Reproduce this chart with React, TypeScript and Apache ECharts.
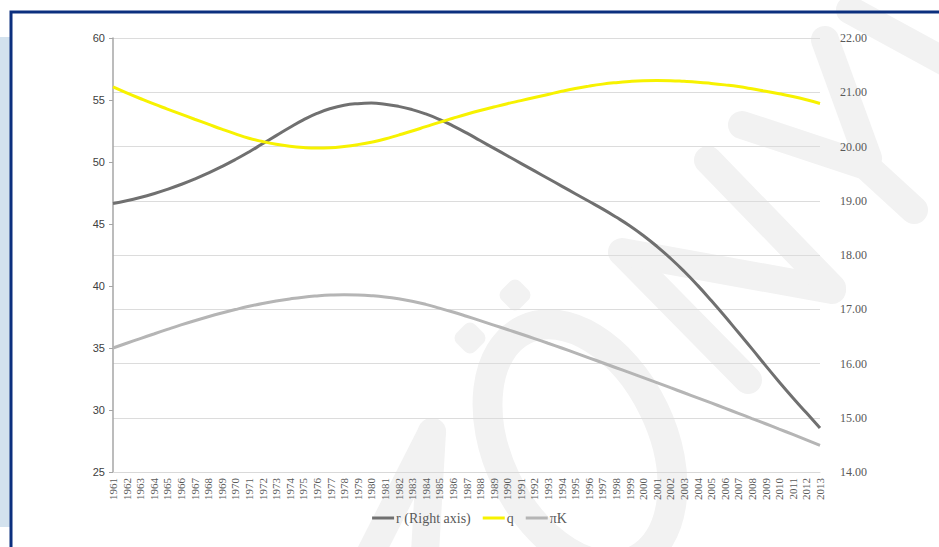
import React, { useEffect, useRef } from "react";
import * as echarts from "echarts";

const years: string[] = [];
for (let y = 1961; y <= 2013; y++) years.push(String(y));

const rValues = [
  18.95, 19.00, 19.06, 19.13, 19.21, 19.30, 19.40, 19.51, 19.63, 19.76,
  19.90, 20.05, 20.20, 20.35, 20.49, 20.61, 20.70, 20.76, 20.79, 20.80,
  20.78, 20.74, 20.68, 20.60, 20.50, 20.38, 20.25, 20.11, 19.97, 19.83,
  19.69, 19.55, 19.41, 19.27, 19.13, 18.99, 18.85, 18.70, 18.54, 18.36,
  18.16, 17.94, 17.70, 17.44, 17.16, 16.87, 16.57, 16.27, 15.96, 15.66,
  15.37, 15.09, 14.81,
];

const qValues = [
  56.06, 55.58, 55.12, 54.68, 54.27, 53.86, 53.45, 53.05, 52.65, 52.27,
  51.92, 51.65, 51.43, 51.27, 51.17, 51.13, 51.15, 51.25, 51.40, 51.60,
  51.85, 52.17, 52.50, 52.85, 53.20, 53.53, 53.85, 54.15, 54.43, 54.70,
  54.95, 55.20, 55.45, 55.70, 55.93, 56.12, 56.28, 56.40, 56.49, 56.55,
  56.57, 56.56, 56.51, 56.44, 56.34, 56.22, 56.08, 55.90, 55.70, 55.50,
  55.28, 55.02, 54.72,
];

const piKValues = [
  35.00, 35.38, 35.76, 36.13, 36.50, 36.86, 37.20, 37.52, 37.82, 38.10,
  38.36, 38.59, 38.79, 38.96, 39.10, 39.20, 39.27, 39.30, 39.28, 39.22,
  39.12, 38.97, 38.77, 38.52, 38.22, 37.90, 37.56, 37.21, 36.85, 36.49,
  36.13, 35.76, 35.38, 35.00, 34.61, 34.21, 33.81, 33.41, 33.01, 32.61,
  32.21, 31.80, 31.39, 30.98, 30.57, 30.15, 29.73, 29.31, 28.89, 28.46,
  28.03, 27.59, 27.15,
];

const leftTicks = { min: 25, max: 60, interval: 5 };
const rightTicks = { min: 14, max: 22, interval: 1 };

const seriesNames = ["r (Right axis)", "q", "πK"];

const WM = "#f2f2f2";
const wmLine = (pts: number[][], w = 28) => ({
  type: "polyline",
  z: -10,
  silent: true,
  shape: { points: pts },
  style: { stroke: WM, lineWidth: w, lineCap: "round", lineJoin: "round", fill: null },
});

export default function App() {
  const ref = useRef<HTMLDivElement>(null);
  useEffect(() => {
    if (!ref.current) return;
    const chart = echarts.init(ref.current, null, { renderer: "svg" });
    const serif = "'Liberation Serif', 'DejaVu Serif', serif";
    const sans = "'Liberation Sans', 'DejaVu Sans', sans-serif";
    chart.setOption({
      animation: false,
      backgroundColor: "#ffffff",
      textStyle: { fontFamily: serif },
      graphic: [
        {
          type: "rect",
          z: -20,
          silent: true,
          shape: { x: 0, y: 37, width: 10, height: 490 },
          style: { fill: "#d3e2ee" },
        },
        wmLine([[432, 432], [424, 570]]),
        wmLine([[432, 432], [362, 570]]),
        {
          type: "ellipse",
          z: -10,
          silent: true,
          x: 580,
          y: 445,
          rotation: 0.45,
          shape: { cx: 0, cy: 0, rx: 82, ry: 128 },
          style: { stroke: WM, lineWidth: 30, fill: null },
        },
        {
          type: "rect",
          z: -10,
          silent: true,
          x: 515,
          y: 295,
          rotation: Math.PI / 4,
          shape: { x: -13, y: -13, width: 26, height: 26, r: 7 },
          style: { fill: WM },
        },
        {
          type: "rect",
          z: -10,
          silent: true,
          x: 470,
          y: 338,
          rotation: Math.PI / 4,
          shape: { x: -13, y: -13, width: 26, height: 26, r: 7 },
          style: { fill: WM },
        },
        wmLine([[624, 254], [748, 380]]),
        wmLine([[622, 252], [832, 290]]),
        wmLine([[708, 160], [832, 288]]),
        wmLine([[742, 125], [866, 166], [914, 210]]),
        wmLine([[825, 40], [868, 158]]),
        wmLine([[850, 10], [960, 70]]),
        {
          type: "rect",
          z: 100,
          silent: true,
          shape: { x: 11, y: 12, width: 960, height: 560 },
          style: { stroke: "#0b2f7e", lineWidth: 3, fill: null },
        },
      ],
      grid: { left: 113, right: 119, top: 38, bottom: 75, containLabel: false },
      legend: {
        data: seriesNames,
        bottom: 17,
        left: "center",
        itemWidth: 22,
        itemHeight: 3,
        itemGap: 12,
        icon: "rect",
        textStyle: { fontFamily: serif, fontSize: 14, color: "#595959", padding: [0, 0, 0, -3] },
      },
      xAxis: {
        type: "category",
        data: years,
        boundaryGap: false,
        axisLine: { show: true, lineStyle: { color: "#d9d9d9", width: 1 } },
        axisTick: { show: false },
        axisLabel: {
          rotate: 90,
          interval: 0,
          margin: 6,
          fontFamily: serif,
          fontSize: 11,
          color: "#595959",
        },
        splitLine: { show: false },
      },
      yAxis: [
        {
          type: "value",
          position: "left",
          min: leftTicks.min,
          max: leftTicks.max,
          interval: leftTicks.interval,
          axisLine: { show: true, lineStyle: { color: "#a6a6a6", width: 1.5 } },
          axisTick: { show: true, length: 4, lineStyle: { color: "#a6a6a6" } },
          axisLabel: { fontFamily: sans, fontSize: 11, color: "#404040", margin: 8 },
          splitLine: { show: false },
        },
        {
          type: "value",
          position: "right",
          min: rightTicks.min,
          max: rightTicks.max,
          interval: rightTicks.interval,
          axisLine: { show: false },
          axisTick: { show: false },
          axisLabel: {
            fontFamily: serif,
            fontSize: 12,
            color: "#595959",
            margin: 20,
            formatter: (v: number) => v.toFixed(2),
          },
          splitLine: { show: true, lineStyle: { color: "#dcdcdc", width: 1 } },
        },
      ],
      series: [
        {
          name: seriesNames[0],
          type: "line",
          yAxisIndex: 1,
          data: rValues,
          smooth: true,
          showSymbol: false,
          symbol: "none",
          lineStyle: { color: "#707070", width: 3 },
          itemStyle: { color: "#707070" },
          z: 3,
        },
        {
          name: seriesNames[1],
          type: "line",
          yAxisIndex: 0,
          data: qValues,
          smooth: true,
          showSymbol: false,
          symbol: "none",
          lineStyle: { color: "#f7f200", width: 3 },
          itemStyle: { color: "#f7f200" },
          z: 4,
        },
        {
          name: seriesNames[2],
          type: "line",
          yAxisIndex: 0,
          data: piKValues,
          smooth: true,
          showSymbol: false,
          symbol: "none",
          lineStyle: { color: "#b5b5b5", width: 3 },
          itemStyle: { color: "#b5b5b5" },
          z: 2,
        },
      ],
    });
    return () => chart.dispose();
  }, []);
  return (
    <div
      ref={ref}
      style={{ position: "fixed", left: 0, top: 0, width: 939, height: 547 }}
    />
  );
}
